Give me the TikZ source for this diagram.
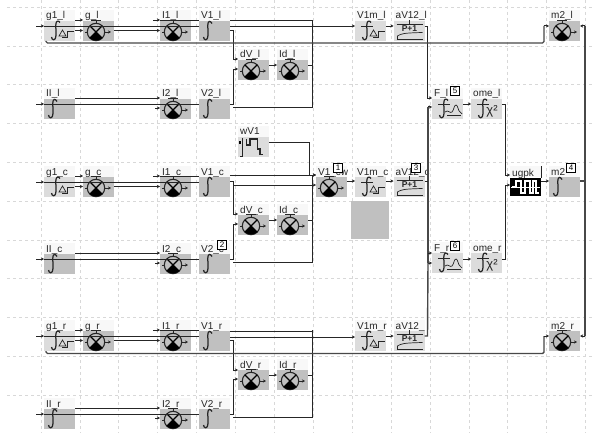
\documentclass[tikz,border=0pt]{standalone}
\usepackage{fontspec}
\setmainfont{Liberation Sans}
\usetikzlibrary{arrows.meta,calc}
\definecolor{mid}{HTML}{C0C0C0}
\definecolor{lite}{HTML}{DCDCDC}
\definecolor{labbg}{HTML}{F8F8F8}
\definecolor{gridc}{HTML}{D8D8D8}
\definecolor{bus}{HTML}{484848}
\tikzset{
 x=1pt,y=-1pt,
 gridline/.style={gridc,line width=.7pt,dash pattern=on 3pt off 3pt},
 bd/.style={draw=none,minimum width=31pt,minimum height=20pt,inner sep=0pt,outer sep=0pt},
 labbox/.style={draw=none,fill=labbg,minimum width=31pt,minimum height=11pt,inner sep=0pt,outer sep=0pt},
 labtext/.style={inner sep=0pt,anchor=base west,font=\fontsize{10}{10}\selectfont,text=black!85},
 ic/.style={line width=.7pt,black!85},
 icf/.style={line width=1.25pt,black!85},
 wire/.style={line width=.75pt,black!85,-{Stealth[length=3.2pt,width=3.2pt]}},
 plainw/.style={line width=.75pt,black!85},
 thickw/.style={line width=1.4pt,bus},
 badge/.style={draw=black,fill=white,line width=.6pt,minimum width=9.5pt,minimum height=9pt,inner sep=0pt,font=\fontsize{8}{8}\selectfont},
}
% icons, local coordinates: body 0..31 x 0..20
\newcommand\IcInt{\draw[icf] (13,2.5) .. controls (11.5,-.5) and (8.8,-.5) .. (8.8,4) .. controls (8.8,10) and (9.5,14) .. (8.5,17) .. controls (7.8,19.5) and (5,19.5) .. (4.5,16);}
\newcommand\IcF{\draw[icf] (16,1.5) .. controls (14.5,-.8) and (11.8,-.5) .. (11.8,4) .. controls (11.8,10) and (12.5,14) .. (11.5,17) .. controls (10.8,19.5) and (8,19.5) .. (7.5,16);\draw[ic] (6,5.5) -- (18,5.5);}
\newcommand\IcFD{\IcF\draw[ic] (15,15) -- (18.5,9) -- (22,15) -- cycle;\draw[ic] (18,16) -- (23.5,16) -- (23.5,10) -- (30,10);}
\newcommand\IcFC{\IcF\node[inner sep=0pt,font=\fontsize{13}{13}\selectfont,text=black!85] at (21,12) {χ²};}
\newcommand\IcFW{\IcF\draw[ic] (13,13) .. controls (16,10) and (18,15) .. (20,13) .. controls (22,11) and (22,6) .. (24,6) .. controls (26,6) and (26,12) .. (28,13) -- (30,15);\draw[ic] (15,16) -- (29,16);}
\newcommand\IcMul{\draw[ic,line width=1.1pt] (13,11) circle[radius=8.7];
 \draw[black,line width=1.2pt] (6.85,4.85) -- (19.15,17.15) (19.15,4.85) -- (6.85,17.15);
 \fill[black] (13,11) -- (6.85,17.15) .. controls (10,20.2) and (16,20.2) .. (19.15,17.15) -- cycle;
 \draw[ic] (13,2.3) -- (13,-.5) (8,-.5) -- (18,-.5) (4.3,11) -- (1.5,11);
 \draw[line width=.7pt,black!85,-{Stealth[length=3pt,width=3pt]}] (21.7,11) -- (28,11);}
\newcommand\IcP{\draw[ic] (3,3.5) -- (29,3.5);
 \node[inner sep=0pt,font=\fontsize{8.5}{8.5}\selectfont\bfseries,text=black!85] at (16,8) {P+1};
 \draw[ic] (4,18) -- (4,15) .. controls (8,12.5) and (10,12) .. (29,11.5);
 \draw[ic] (3,18) -- (29,18);
 \draw[ic] (15.5,-1) -- (15.5,3);}
\newcommand\IcStep{\fill[black] (.5,4) rectangle (3,7);
 \draw[icf] (2,19.7) -- (4.3,19.7) -- (4.3,1.3);
 \draw[icf] (8.7,2) -- (8.7,8) -- (12,8) -- (12,2) -- (19.3,2) -- (19.3,12) -- (22,12) -- (22,17.3) -- (25.3,17.3);}
\newcommand\IcSq{\draw[white,line width=.5pt] (1,9) -- (30,9);\draw[white,line width=1.3pt] (2,9) -- (6,9) -- (6,3) -- (11,3) -- (11,15) -- (15,15) -- (15,3) -- (20,3) -- (20,15) -- (23,15) -- (23,3) -- (26,3) -- (26,15) -- (29,15);}
% block: name, x, body top y, label, body colour, icon
\newcommand\Blk[6]{%
 \node[labbox,anchor=north west] (#1top) at (#2,#3-11) {};
 \node[bd,fill=#5,anchor=north west] (#1) at (#2,#3) {};
 \begin{scope}[shift={(#2,#3)}]#6\end{scope}
 \node[labtext] (#1txt) at (#2+2,#3-2) {#4};
}
% one family of blocks and wires: suffix, y1, y2, ym
\newcommand\Family[4]{%
 \Blk{gone#1}{44}{#2}{g1\_#1}{lite}{\IcFD}
 \Blk{g#1}{83}{#2}{g\_#1}{mid}{\IcMul}
 \Blk{ione#1}{160}{#2}{I1\_#1}{mid}{\IcMul}
 \Blk{vone#1}{199}{#2}{V1\_#1}{mid}{\IcInt}
 \Blk{ll#1}{44}{#3}{II\_#1}{mid}{\IcInt}
 \Blk{itwo#1}{160}{#3}{I2\_#1}{mid}{\IcMul}
 \Blk{vtwo#1}{199}{#3}{V2\_#1}{mid}{\IcInt}
 \Blk{dv#1}{238}{#4}{dV\_#1}{mid}{\IcMul}
 \Blk{id#1}{277}{#4}{Id\_#1}{mid}{\IcMul}
 \pgfmathsetmacro\ya{#2-1}\pgfmathsetmacro\yb{#2+5}\pgfmathsetmacro\yc{#2+9.5}
 \pgfmathsetmacro\yd{#3-1}\pgfmathsetmacro\ye{#3+5}\pgfmathsetmacro\yf{#3+9}
 \pgfmathsetmacro\yg{#4-1}\pgfmathsetmacro\yh{#4+5}\pgfmathsetmacro\yi{#4+9}
 \pgfmathsetmacro\yj{#3+8.5}
 % upper row
 \draw[wire] (gone#1.west |- 0,\yb) ++(-8,0) -- (gone#1.west |- 0,\yb);
 \draw[plainw] (gone#1.west |- 0,\yb) -- (vone#1.west |- 0,\yb);
 \draw[wire] (gone#1.east |- 0,\ya) -- (g#1.west |- 0,\ya);
 \draw[wire] (gone#1.east |- 0,\yc) -- (g#1.west |- 0,\yc);
 \draw[wire] (g#1.east |- 0,\yc) -- (ione#1.west |- 0,\yc);
 \draw[wire] (ione#1.west |- 0,\ya) ++(-7,0) -- (ione#1.west |- 0,\ya);
 \draw[plainw] (ione#1.west |- 0,\ya) -- (vone#1.west |- 0,\ya);
 % lower row
 \draw[wire] (ll#1.west |- 0,\ye) ++(-8,0) -- (ll#1.west |- 0,\ye);
 \draw[plainw] (ll#1.west |- 0,\ye) -- (vtwo#1.west |- 0,\ye);
 \draw[wire] (ll#1.east |- 0,\yd) -- (itwo#1.west |- 0,\yd);
 \draw[wire] (itwo#1.west |- 0,\yf) ++(-5,0) -- (itwo#1.west |- 0,\yf);
 % difference branch
 \draw[wire] (vtwo#1.east |- 0,\ye) -- ++(3,0) |- (dv#1.west |- 0,\yi);
 \draw[wire] (dv#1.east |- 0,\yh) -- (id#1.west |- 0,\yh);
 \draw[plainw] (id#1.east |- 0,\yh) -- (312,\yh);
 \draw[plainw] (vtwo#1.east |- 0,\yj) ++(3,0) -- (312,\yj) -- (312,\ya);
}
\begin{document}
\begin{tikzpicture}
\useasboundingbox (0,0) rectangle (594,433);
\fill[white] (0,0) rectangle (594,433);
\foreach \k in {0,...,14}{\draw[gridline] ({41+38.9*\k},0) -- ({41+38.9*\k},433);}
\foreach \yy in {7,46,84,123,162,201,240,278,317,356,395}{\draw[gridline] (7,\yy) -- (594,\yy);}
\fill[mid] (351,201) rectangle (389,239);

\Family{l}{21}{99}{60}
\Family{c}{177}{254}{215}
\Family{r}{331}{409}{370}

% V1 outputs and branch
\Blk{vma}{355}{21}{V1m\_l}{lite}{\IcFD}
\Blk{pa}{393.5}{21}{aV12\_l}{lite}{\IcP}
\Blk{vmb}{355}{177}{V1m\_c}{lite}{\IcFD}
\Blk{pb}{393.5}{177}{aV12\_c}{lite}{\IcP}
\Blk{vmc}{355}{331}{V1m\_r}{lite}{\IcFD}
\Blk{pc}{393.5}{331}{aV12\_}{lite}{\IcP}
\Blk{wv}{238}{137}{wV1}{lite}{\IcStep}
\Blk{cw}{316}{177}{V1\_cw}{mid}{\IcMul}
\Blk{fa}{432}{99}{F\_l}{lite}{\IcFW}
\Blk{oa}{471}{99}{ome\_l}{lite}{\IcFC}
\Blk{fb}{432}{253}{F\_r}{lite}{\IcFW}
\Blk{ob}{471}{253}{ome\_r}{lite}{\IcFC}
\Blk{ma}{549}{21}{m2\_l}{mid}{\IcMul}
\Blk{mb}{549}{177}{m2}{mid}{\IcInt}
\Blk{mc}{549}{331}{m2\_r}{mid}{\IcMul}
\node[labbox,anchor=north west] (ugtop) at (510,166) {};
\node[bd,fill=black,anchor=north west,minimum height=18pt] (ug) at (510,178) {};
\begin{scope}[shift={(510,178)}]\IcSq\end{scope}
\node[labtext] (ugtxt) at (512,176) {ugpk};
\draw[plainw] (ugtop.north east) -- (ug.north east);

% V1 wires
\draw[wire] (vonel.east |- 0,26) -- (vma.west |- 0,26);
\draw[wire] (vonel.east |- 0,30) -- ++(3,0) |- (dvl.west |- 0,59);
\draw[plainw] (vonel.east |- 0,20) -- (312,20);
\draw[wire] (vonec.east |- 0,175) -- (cw.west |- 0,175);
\draw[plainw] (vonec.east |- 0,181) -- ++(3,0) -- ++(0,4);
\draw[wire] (233,185) -- (cw.west |- 0,185);
\draw[wire] (233,185) |- (dvc.west |- 0,214);
\draw[wire] (wv.east |- 0,142) -| (309,175) -- (cw.west |- 0,175);
\draw[wire] (cw.east |- 0,181) -- (vmb.west |- 0,181);
\draw[wire] (voner.east |- 0,337) -- (vmc.west |- 0,337);
\draw[wire] (voner.east |- 0,340) -- ++(3,0) |- (dvr.west |- 0,370);
\draw[plainw] (voner.east |- 0,331) -- (312,331);
% averages
\draw[wire] (vma.east |- 0,26) -- (pa.west |- 0,26);
\draw[wire] (vmb.east |- 0,181) -- (pb.west |- 0,181);
\draw[wire] (vmc.east |- 0,336) -- (pc.west |- 0,336);
% F inputs
\draw[wire] (pa.east |- 0,26) -| (427,98) -- (fa.west |- 0,98);
\draw[thickw] (428,107) -- (428,263);
\draw[wire,line width=1pt] (428,107) -- (fa.west |- 0,107);
\draw[plainw] (pb.east |- 0,181) -- (428,181);
\draw[wire,line width=1pt] (428,253) -- (fb.west |- 0,253);
\draw[wire,line width=1pt] (428,263) -- (fb.west |- 0,263);
\draw[thickw] (428,263) -- (427.5,336) -- (pc.east |- 0,336);
% omega and ugpk
\draw[wire] (fa.east |- 0,104) -- (oa.west |- 0,104);
\draw[wire] (fb.east |- 0,259) -- (ob.west |- 0,259);
\draw[wire] (oa.east |- 0,104) -| (505,175) -- (ug.west |- 0,175);
\draw[wire,line width=1pt] (ob.east |- 0,259) -| (505.5,185) -- (ug.west |- 0,185);
\draw[wire] (ug.east |- 0,181) -- (mb.west |- 0,181);
% long thick lines
\draw[thickw,rounded corners=1.5pt] (gonel.south west) ++(2,0) -- ++(0,2) -- (544,43) -- (544,26);
\draw[wire,line width=1pt] (544,26) -- (ma.west |- 0,26);
\draw[thickw,rounded corners=1.5pt] (goner.south west) ++(2,0) -- ++(0,2.5) -- (544,353.5) -- (544,336);
\draw[wire,line width=1pt] (544,336) -- (mc.west |- 0,336);
\draw[thickw] (mb.east |- 0,181) -- (585,181);
\draw[thickw] (585,26) -- (585,336);
\draw[wire,line width=1pt] (585,26) -- (ma.east |- 0,26);
\draw[wire,line width=1pt] (585,336) -- (mc.east |- 0,336);
% badges
\node[badge] (b1) at (338,167.5) {1};
\node[badge] (b2) at (222,245) {2};
\node[badge] (b3) at (416,168) {3};
\node[badge] (b4) at (571,168) {4};
\node[badge] (b5) at (455,90.5) {5};
\node[badge] (b6) at (455,245.5) {6};
\end{tikzpicture}
\end{document}
